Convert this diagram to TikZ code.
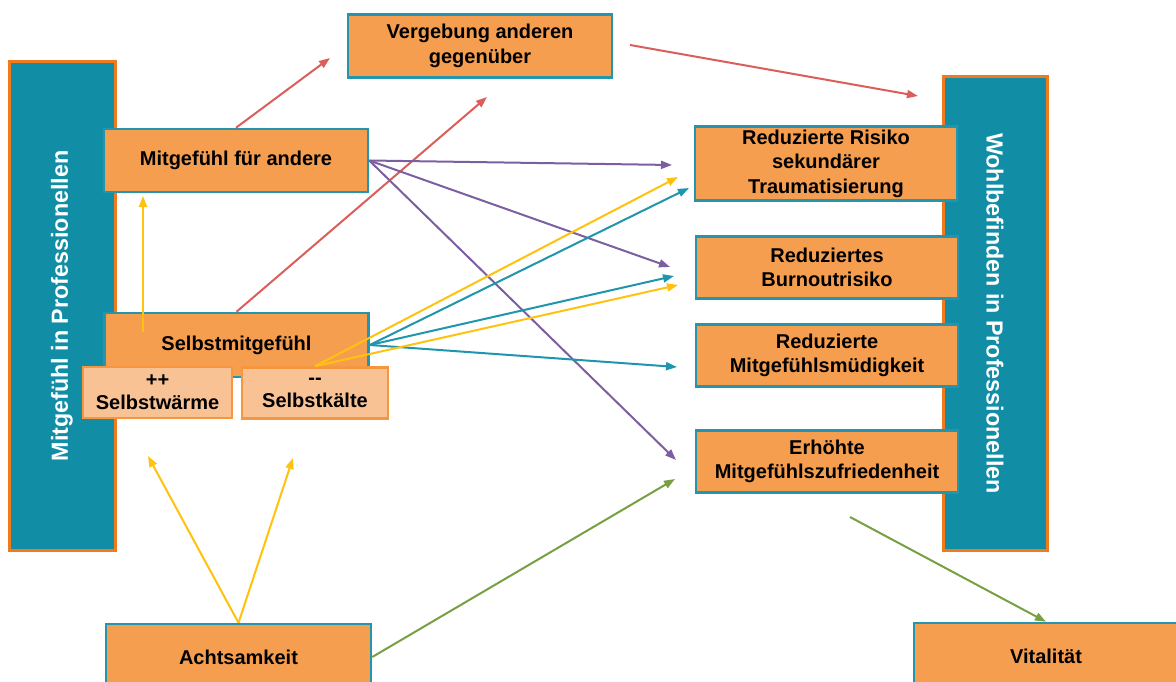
\documentclass[tikz,border=0pt]{standalone}
\usepackage{fontspec}
\setmainfont{Liberation Sans}
\usetikzlibrary{arrows.meta,calc}

\definecolor{boxfill}{HTML}{F69E50}
\definecolor{boxedge}{HTML}{2196AE}
\definecolor{barfill}{HTML}{118DA6}
\definecolor{baredge}{HTML}{F07A1C}
\definecolor{lightfill}{HTML}{F9C295}
\definecolor{lightedge}{HTML}{F6963F}
\definecolor{cred}{HTML}{DB5E5B}
\definecolor{cpurple}{HTML}{7B5FA0}
\definecolor{cyellow}{HTML}{FFC20E}
\definecolor{cteal}{HTML}{1F96AE}
\definecolor{cgreen}{HTML}{77A043}

\tikzset{
  box/.style={draw=boxedge, line width=2.5pt, fill=boxfill, inner sep=0pt,
    align=center, font=\fontsize{20}{24.5}\selectfont\bfseries},
  lightbox/.style={draw=lightedge, line width=2.5pt, fill=lightfill, inner sep=0pt,
    align=center, font=\fontsize{20}{23}\selectfont\bfseries},
  bar/.style={draw=baredge, line width=3pt, fill=barfill, inner sep=0pt,
    text=white, font=\fontsize{23.3}{28}\selectfont\bfseries},
  link/.style={line width=2pt, -{Triangle[length=11pt,width=8pt]}},
}

\begin{document}
\begin{tikzpicture}[x=1pt,y=-1pt]
\clip (0,0) rectangle (1176,682);
\fill[white] (0,0) rectangle (1176,682);

% side bars
\node[bar, rotate=90, minimum width=488pt, minimum height=106pt] (mip) at (62,306) {Mitgefühl in Professionellen};
\node[bar, rotate=-90, minimum width=473pt, minimum height=104pt] (wip) at (995,313.5) {Wohlbefinden in Professionellen};

% left column
\node[box, minimum width=264pt, minimum height=63pt] (vag) at (480,46) {Vergebung anderen\\gegenüber};
\node[box, minimum width=264pt, minimum height=63pt] (mfa) at (236,160.5) {Mitgefühl für andere};
\node[box, minimum width=264pt, minimum height=64pt] (smg) at (236.5,345) {Selbstmitgefühl};
\node[lightbox, minimum width=149pt, minimum height=51pt] (swm) at (157.5,392.5) {++\\Selbstwärme};
\node[lightbox, minimum width=146pt, minimum height=51pt] (skt) at (315,393) {-{}-\\Selbstkälte};
\node[box, minimum width=265pt, minimum height=66pt] (ach) at (238.5,657) {Achtsamkeit};

% outcomes
\node[box, minimum width=262pt, minimum height=74pt] (rrs) at (826,163.5) {Reduzierte Risiko\\sekundärer\\Traumatisierung};
\node[box, minimum width=262pt, minimum height=62pt] (rbr) at (827,267.5) {Reduziertes\\Burnoutrisiko};
\node[box, minimum width=262pt, minimum height=62pt] (rmm) at (827,355.5) {Reduzierte\\Mitgefühlsmüdigkeit};
\node[box, minimum width=262pt, minimum height=62pt] (emz) at (827,461.5) {Erhöhte\\Mitgefühlszufriedenheit};
\node[box, minimum width=264pt, minimum height=66pt] (vit) at (1046,656) {Vitalität};

% free arrow ends
\coordinate (r1) at (330,58);
\coordinate (r2) at (487,97);
\coordinate (r3s) at (630,45);
\coordinate (r3) at (918,96);
\coordinate (p1) at (672,165);
\coordinate (p2) at (670,267);
\coordinate (p3) at (676,460);
\coordinate (y0) at (143,332);
\coordinate (y1) at (143,196);
\coordinate (y2) at (678,177);
\coordinate (y3) at (678,285);
\coordinate (y4) at (148,456);
\coordinate (y5) at (293,458);
\coordinate (t1) at (689,188);
\coordinate (t2) at (674,276);
\coordinate (t3) at (677,367);
\coordinate (g1) at (675,479);
\coordinate (g2s) at (850,517);

% red links
\draw[link, cred] (mfa.north) -- (r1);
\draw[link, cred] (smg.north) -- (r2);
\draw[link, cred] (r3s) -- (r3);

% purple links
\draw[link, cpurple] (mfa.east) -- (p1);
\draw[link, cpurple] (mfa.east) -- (p2);
\draw[link, cpurple] (mfa.east) -- (p3);

% teal links
\draw[link, cteal] (smg.east) -- (t1);
\draw[link, cteal] (smg.east) -- (t2);
\draw[link, cteal] (smg.east) -- (t3);

% yellow links
\draw[link, cyellow] (y0) -- (y1);
\draw[link, cyellow] (skt.north) -- (y2);
\draw[link, cyellow] (skt.north) -- (y3);
\draw[link, cyellow] (ach.north) -- (y4);
\draw[link, cyellow] (ach.north) -- (y5);

% green links
\draw[link, cgreen] (ach.east) -- (g1);
\draw[link, cgreen] (g2s) -- (vit.north);
\end{tikzpicture}
\end{document}
